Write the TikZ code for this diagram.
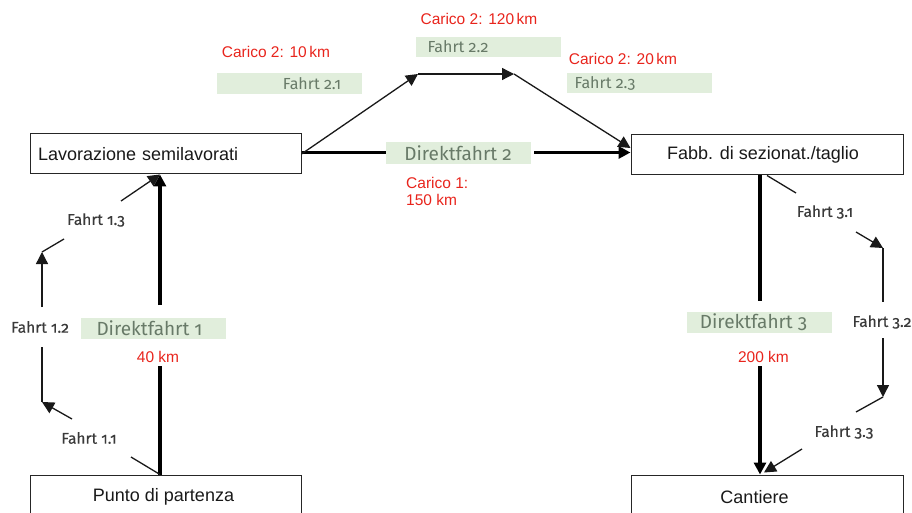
\documentclass[tikz,border=0pt]{standalone}
\usepackage{fontspec}
\setmainfont{Liberation Sans}
\newfontfamily\lblfont[Numbers=OldStyle]{Fira Sans}
\newfontfamily\flblfont[Numbers=OldStyle,FakeBold=0.3]{Fira Sans}
\usetikzlibrary{arrows.meta}
\definecolor{kmred}{HTML}{E8241C}
\definecolor{lgreen}{HTML}{E1EEDC}
\definecolor{gtext}{HTML}{687A68}
\definecolor{ftext}{HTML}{3A3A3A}
\begin{document}
\begin{tikzpicture}[x=1pt,y=-1pt,
  box/.style={draw=black!85, line width=1pt, minimum width=271pt, minimum height=40pt,
    inner sep=0pt, font=\fontsize{18}{20}\selectfont, text=black!90},
  glabel/.style={fill=lgreen, minimum width=145pt, minimum height=21pt, inner sep=0pt,
    text=gtext, font=\lblfont\fontsize{19}{21}\selectfont},
  slabel/.style={fill=lgreen, minimum width=145pt, minimum height=20pt, inner sep=0pt,
    text=gtext, font=\lblfont\fontsize{16}{18}\selectfont},
  flabel/.style={inner sep=0pt, text=ftext, font=\flblfont\fontsize{15.5}{17}\selectfont},
  kmlabel/.style={inner sep=0pt, text=kmred, font=\fontsize{15.5}{17.5}\selectfont},
  arr/.style={-{Triangle[length=12pt,width=12pt]}},
  direct/.style={line width=3.2pt, black},
  thinline/.style={line width=1.3pt, black!90},
]
\useasboundingbox (0,0) rectangle (912,513);

% boxes
\node[box, text width=255pt, align=left, inner xsep=8pt] (lav) at (165.5,154) {Lavorazione semilavorati};
\node[box, minimum width=272pt] (fab) at (767,155) {Fabb. di sezionat./taglio\hspace*{8pt}};
\node[box, minimum height=44pt] (pun) at (165.5,497) {Punto di partenza\hspace*{4pt}};
\node[box, minimum width=272pt, minimum height=44pt] (can) at (767,497) {Cantiere\hspace*{25pt}};

% labels
\node[glabel] (d1) at (153.5,328.5) {Direktfahrt 1\hspace*{8pt}};
\node[glabel, minimum height=22pt] (d2) at (458,153) {Direktfahrt 2};
\node[glabel] (d3) at (759.5,322.5) {Direktfahrt 3\hspace*{12pt}};
\node[slabel, minimum height=21pt] (g21) at (289.5,83.5) {\hspace*{45pt}Fahrt 2.1};
\node[slabel] (g22) at (488.5,47) {Fahrt 2.2\hspace*{61pt}};
\node[slabel] (g23) at (639.5,83) {Fahrt 2.3\hspace*{69pt}};

\node[kmlabel] (c21) at (276,52) {Carico 2: 10\,km};
\node[kmlabel] (c22) at (479,19) {Carico 2: 120\,km};
\node[kmlabel] (c23) at (623,59) {Carico 2: 20\,km};
\node[kmlabel, anchor=north west, align=left] (c1) at (406,177) {Carico 1:\\150 km};
\node[kmlabel] (km1) at (158,357) {40 km};
\node[kmlabel] (km3) at (763.5,357) {200 km};

\node[flabel] (f11) at (89,438) {Fahrt 1.1};
\node[flabel] (f12) at (40,327) {Fahrt 1.2};
\node[flabel] (f13) at (96,220) {Fahrt 1.3};
\node[flabel] (f31) at (825,212) {Fahrt 3.1};
\node[flabel] (f32) at (882,322) {Fahrt 3.2};
\node[flabel] (f33) at (844,432) {Fahrt 3.3};

% Direktfahrt 1
\coordinate (x1) at (160,366);
\coordinate (x2) at (160,305);
\draw[direct] (pun.north -| x1) -- (x1);
\draw[direct, arr] (x2) -- (x2 |- lav.south);

% Direktfahrt 2
\coordinate (y1) at (386,152.5);
\coordinate (y2) at (534,152.5);
\draw[direct] (lav.east |- y1) -- (y1);
\draw[direct, arr] (y2) -- (y2 -| fab.west);

% Direktfahrt 3
\coordinate (z1) at (760,301);
\coordinate (z2) at (760,366);
\draw[direct] (z1 |- fab.south) -- (z1);
\draw[direct, arr] (z2) -- (z2 |- can.north);

% Fahrt 2.x
\coordinate (p21) at (418,74);
\coordinate (p22) at (514,74);
\draw[thinline, arr] (lav.east) -- (p21);
\draw[thinline, arr] (p21) -- (p22);
\draw[thinline, arr] (p22) -- ([yshift=7pt]fab.west);

% Fahrt 1.x
\coordinate (a1) at (131,457);
\coordinate (a2) at (72,419);
\coordinate (a3) at (42,402);
\coordinate (a4) at (42,347);
\coordinate (a5) at (42,307);
\coordinate (a6) at (42,252);
\coordinate (a7) at (64,239);
\coordinate (a8) at (121,201);
\draw[thinline] (pun.north -| x1) -- (a1);
\draw[thinline, arr] (a2) -- (a3);
\draw[thinline] (a3) -- (a4);
\draw[thinline, arr] (a5) -- (a6);
\draw[thinline] (a6) -- (a7);
\draw[thinline, arr] (a8) -- (x2 |- lav.south);

% Fahrt 3.x
\coordinate (b1) at (796,193);
\coordinate (b2) at (856,232);
\coordinate (b3) at (883,248);
\coordinate (b4) at (883,302);
\coordinate (b5) at (883,338);
\coordinate (b6) at (883,397);
\coordinate (b7) at (856,412);
\coordinate (b8) at (802,449);
\draw[thinline] (fab.south) -- (b1);
\draw[thinline, arr] (b2) -- (b3);
\draw[thinline] (b3) -- (b4);
\draw[thinline, arr] (b5) -- (b6);
\draw[thinline] (b6) -- (b7);
\draw[thinline, arr] (b8) -- ([xshift=-3pt,yshift=2pt]can.north);
\end{tikzpicture}
\end{document}
